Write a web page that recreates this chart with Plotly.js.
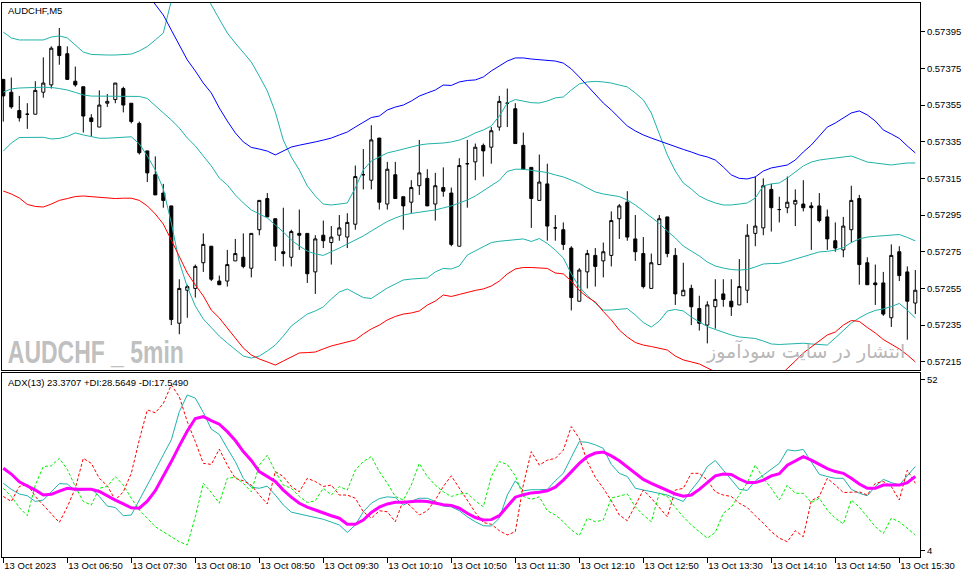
<!DOCTYPE html>
<html><head><meta charset="utf-8">
<script src="https://cdn.plot.ly/plotly-3.0.1.min.js"></script>
<style>html,body{margin:0;padding:0;background:#fff;}#chart{width:966px;height:578px;}</style>
</head><body><div id="chart"></div>
<script>
// ---- AUDCHF M5 candles (13 Oct 2023, 06:10 .. 15:40) ----
const open = [0.57369,0.57362,0.57352,0.57350,0.57350,0.57362,0.57366,0.57387,0.57383,0.57368,
0.57365,0.57348,0.57343,0.57356,0.57358,0.57364,0.57356,0.57345,0.57330,0.57317,
0.57307,0.57300,0.57236,0.57254,0.57255,0.57269,0.57278,0.57259,0.57259,0.57270,
0.57272,0.57266,0.57287,0.57304,0.57293,0.57275,0.57272,0.57285,0.57285,0.57264,
0.57284,0.57280,0.57284,0.57283,0.57290,0.57317,0.57314,0.57337,0.57301,0.57317,
0.57305,0.57302,0.57311,0.57315,0.57301,0.57310,0.57307,0.57278,0.57323,0.57324,
0.57333,0.57332,0.57343,0.57356,0.57353,0.57333,0.57321,0.57303,0.57312,0.57288,
0.57287,0.57277,0.57248,0.57264,0.57273,0.57270,0.57273,0.57293,0.57302,0.57282,
0.57274,0.57255,0.57268,0.57294,0.57273,0.57251,0.57255,0.57244,0.57235,0.57245,
0.57252,0.57248,0.57246,0.57254,0.57285,0.57288,0.57309,0.57298,0.57299,0.57301,
0.57301,0.57300,0.57300,0.57294,0.57281,0.57276,0.57287,0.57304,0.57269,0.57258,
0.57258,0.57239,0.57275,0.57264,0.57247];
const high = [0.57369,0.57370,0.57360,0.57356,0.57368,0.57381,0.57387,0.57397,0.57387,0.57376,
0.57365,0.57350,0.57363,0.57361,0.57367,0.57365,0.57356,0.57346,0.57330,0.57327,
0.57312,0.57300,0.57260,0.57257,0.57268,0.57285,0.57278,0.57262,0.57276,0.57282,
0.57285,0.57285,0.57303,0.57307,0.57293,0.57299,0.57287,0.57298,0.57285,0.57284,
0.57292,0.57289,0.57295,0.57296,0.57322,0.57331,0.57344,0.57337,0.57324,0.57324,
0.57305,0.57314,0.57336,0.57320,0.57318,0.57321,0.57310,0.57326,0.57336,0.57334,
0.57334,0.57343,0.57360,0.57364,0.57356,0.57340,0.57321,0.57328,0.57323,0.57295,
0.57291,0.57278,0.57266,0.57276,0.57277,0.57280,0.57297,0.57301,0.57308,0.57295,
0.57283,0.57274,0.57295,0.57294,0.57277,0.57269,0.57257,0.57251,0.57248,0.57260,
0.57260,0.57260,0.57271,0.57290,0.57316,0.57315,0.57312,0.57305,0.57316,0.57309,
0.57314,0.57302,0.57307,0.57298,0.57291,0.57294,0.57311,0.57306,0.57272,0.57268,
0.57264,0.57279,0.57278,0.57267,0.57265];
const low = [0.57346,0.57353,0.57346,0.57342,0.57350,0.57359,0.57364,0.57377,0.57369,0.57365,
0.57340,0.57338,0.57343,0.57354,0.57356,0.57351,0.57345,0.57328,0.57313,0.57306,
0.57299,0.57235,0.57230,0.57239,0.57250,0.57264,0.57259,0.57257,0.57256,0.57270,
0.57266,0.57261,0.57284,0.57294,0.57270,0.57267,0.57267,0.57276,0.57258,0.57252,
0.57277,0.57268,0.57281,0.57277,0.57287,0.57309,0.57309,0.57298,0.57298,0.57304,
0.57287,0.57296,0.57306,0.57300,0.57292,0.57305,0.57278,0.57278,0.57299,0.57314,
0.57316,0.57323,0.57341,0.57343,0.57334,0.57320,0.57288,0.57303,0.57281,0.57281,
0.57276,0.57243,0.57248,0.57255,0.57256,0.57261,0.57267,0.57282,0.57281,0.57270,
0.57255,0.57255,0.57268,0.57272,0.57246,0.57251,0.57235,0.57232,0.57225,0.57233,
0.57245,0.57240,0.57246,0.57247,0.57278,0.57284,0.57286,0.57291,0.57296,0.57289,
0.57297,0.57276,0.57291,0.57276,0.57275,0.57272,0.57280,0.57257,0.57257,0.57246,
0.57240,0.57234,0.57259,0.57227,0.57241];
const close = [0.57360,0.57354,0.57348,0.57350,0.57363,0.57367,0.57386,0.57382,0.57369,0.57366,
0.57349,0.57346,0.57355,0.57357,0.57367,0.57355,0.57346,0.57329,0.57318,0.57306,
0.57303,0.57238,0.57255,0.57256,0.57267,0.57279,0.57260,0.57257,0.57268,0.57274,
0.57267,0.57285,0.57303,0.57294,0.57278,0.57274,0.57286,0.57284,0.57263,0.57282,
0.57281,0.57283,0.57288,0.57291,0.57316,0.57317,0.57336,0.57302,0.57320,0.57304,
0.57300,0.57310,0.57318,0.57300,0.57311,0.57308,0.57279,0.57322,0.57323,0.57332,
0.57330,0.57341,0.57357,0.57356,0.57334,0.57320,0.57304,0.57313,0.57289,0.57288,
0.57279,0.57250,0.57265,0.57274,0.57267,0.57275,0.57292,0.57300,0.57283,0.57275,
0.57256,0.57269,0.57293,0.57274,0.57252,0.57254,0.57245,0.57236,0.57246,0.57249,
0.57249,0.57245,0.57256,0.57284,0.57289,0.57311,0.57299,0.57298,0.57302,0.57303,
0.57299,0.57299,0.57292,0.57282,0.57277,0.57289,0.57303,0.57268,0.57257,0.57257,
0.57241,0.57273,0.57262,0.57248,0.57254];

// ---- Bollinger band (teal) ----
const bbUpper = [0.573948,0.573916,0.573905,0.573905,0.573905,0.573905,0.573921,0.573927,0.573916,0.573878,
0.573839,0.573826,0.573823,0.573823,0.573823,0.573826,0.573828,0.573845,0.573869,0.573905,
0.573943,0.574118,0.574259,0.574341,0.574314,0.574205,0.574096,0.574019,0.573943,0.573888,
0.573834,0.573785,0.573708,0.573627,0.573512,0.573359,0.573267,0.573196,0.573109,0.573054,
0.573010,0.573005,0.573010,0.573016,0.573098,0.573196,0.573245,0.573267,0.573289,0.573299,
0.573310,0.573321,0.573332,0.573338,0.573340,0.573343,0.573349,0.573359,0.573376,0.573398,
0.573414,0.573436,0.573490,0.573561,0.573580,0.573572,0.573563,0.573561,0.573572,0.573589,
0.573594,0.573632,0.573665,0.573676,0.573679,0.573676,0.573670,0.573659,0.573649,0.573616,
0.573578,0.573507,0.573387,0.573278,0.573190,0.573125,0.573092,0.573054,0.573032,0.573016,
0.573005,0.573005,0.573010,0.573016,0.573043,0.573109,0.573120,0.573125,0.573152,0.573185,
0.573218,0.573239,0.573250,0.573256,0.573261,0.573267,0.573272,0.573256,0.573239,0.573234,
0.573229,0.573223,0.573229,0.573234,0.573234];
const bbMiddle = [0.573621,0.573638,0.573643,0.573646,0.573646,0.573647,0.573646,0.573640,0.573632,0.573619,
0.573605,0.573599,0.573599,0.573599,0.573599,0.573599,0.573601,0.573597,0.573586,0.573545,
0.573507,0.573469,0.573425,0.573370,0.573327,0.573272,0.573218,0.573152,0.573114,0.573060,
0.573016,0.572978,0.572956,0.572934,0.572896,0.572858,0.572814,0.572781,0.572754,0.572738,
0.572730,0.572749,0.572770,0.572792,0.572814,0.572836,0.572863,0.572890,0.572915,0.572934,
0.572950,0.572959,0.572965,0.572970,0.572978,0.572989,0.573000,0.573016,0.573032,0.573054,
0.573081,0.573109,0.573139,0.573188,0.573200,0.573200,0.573193,0.573189,0.573182,0.573169,
0.573158,0.573141,0.573122,0.573098,0.573076,0.573065,0.573060,0.573051,0.573032,0.573005,
0.572972,0.572940,0.572904,0.572863,0.572825,0.572781,0.572754,0.572727,0.572694,0.572672,
0.572661,0.572653,0.572650,0.572653,0.572667,0.572683,0.572686,0.572686,0.572697,0.572710,
0.572724,0.572740,0.572749,0.572752,0.572759,0.572773,0.572800,0.572820,0.572830,0.572834,
0.572836,0.572841,0.572844,0.572828,0.572809];
const bbLower = [0.573299,0.573343,0.573373,0.573374,0.573374,0.573374,0.573365,0.573368,0.573379,0.573398,
0.573387,0.573376,0.573369,0.573369,0.573373,0.573376,0.573377,0.573338,0.573272,0.573196,
0.573092,0.572907,0.572694,0.572558,0.572454,0.572383,0.572334,0.572290,0.572252,0.572214,
0.572181,0.572170,0.572181,0.572209,0.572241,0.572290,0.572345,0.572378,0.572410,0.572427,
0.572449,0.572492,0.572530,0.572547,0.572525,0.572500,0.572495,0.572525,0.572552,0.572574,
0.572596,0.572601,0.572604,0.572607,0.572640,0.572659,0.572656,0.572672,0.572732,0.572754,
0.572776,0.572800,0.572807,0.572811,0.572818,0.572820,0.572806,0.572822,0.572795,0.572759,
0.572716,0.572629,0.572558,0.572511,0.572470,0.572432,0.572432,0.572438,0.572440,0.572405,
0.572364,0.572339,0.572372,0.572427,0.572435,0.572427,0.572394,0.572367,0.572342,0.572326,
0.572310,0.572296,0.572285,0.572282,0.572277,0.572263,0.572247,0.572244,0.572247,0.572250,
0.572251,0.572247,0.572244,0.572241,0.572280,0.572323,0.572361,0.572389,0.572413,0.572430,
0.572438,0.572451,0.572468,0.572432,0.572389];

// ---- wide band (blue upper / red lower) ----
const outerUpper = [0.574341,0.574352,0.574363,0.574368,0.574374,0.574374,0.574374,0.574368,0.574363,0.574352,
0.574341,0.574330,0.574314,0.574298,0.574276,0.574254,0.574232,0.574205,0.574156,0.574096,
0.574041,0.573959,0.573878,0.573796,0.573736,0.573670,0.573616,0.573534,0.573463,0.573398,
0.573349,0.573319,0.573310,0.573299,0.573278,0.573299,0.573321,0.573331,0.573338,0.573349,
0.573359,0.573370,0.573387,0.573403,0.573430,0.573458,0.573482,0.573490,0.573523,0.573539,
0.573550,0.573572,0.573599,0.573616,0.573632,0.573659,0.573657,0.573676,0.573684,0.573687,
0.573703,0.573736,0.573763,0.573790,0.573807,0.573807,0.573801,0.573798,0.573796,0.573790,
0.573779,0.573747,0.573703,0.573654,0.573605,0.573561,0.573523,0.573479,0.573436,0.573409,
0.573387,0.573370,0.573354,0.573338,0.573321,0.573308,0.573294,0.573278,0.573267,0.573250,
0.573212,0.573169,0.573150,0.573147,0.573158,0.573190,0.573207,0.573215,0.573223,0.573250,
0.573294,0.573332,0.573381,0.573430,0.573452,0.573479,0.573507,0.573518,0.573496,0.573463,
0.573414,0.573392,0.573368,0.573327,0.573289];
const outerLower = [0.573081,0.573065,0.573043,0.573008,0.572997,0.572994,0.573010,0.573030,0.573040,0.573051,
0.573054,0.573050,0.573046,0.573040,0.573040,0.573042,0.573042,0.573030,0.573000,0.572956,
0.572901,0.572814,0.572721,0.572634,0.572569,0.572509,0.572432,0.572389,0.572334,0.572280,
0.572225,0.572187,0.572165,0.572149,0.572132,0.572154,0.572176,0.572198,0.572200,0.572203,
0.572220,0.572236,0.572247,0.572258,0.572269,0.572301,0.572329,0.572350,0.572378,0.572397,
0.572410,0.572416,0.572427,0.572459,0.572481,0.572514,0.572506,0.572517,0.572530,0.572539,
0.572547,0.572563,0.572590,0.572629,0.572656,0.572664,0.572664,0.572661,0.572659,0.572634,
0.572629,0.572590,0.572539,0.572503,0.572476,0.572424,0.572378,0.572323,0.572285,0.572255,
0.572241,0.572233,0.572222,0.572214,0.572181,0.572160,0.572149,0.572138,0.572116,0.572094,
0.572072,0.572051,0.572034,0.572023,0.572018,0.572023,0.572040,0.572072,0.572111,0.572154,
0.572198,0.572231,0.572266,0.572296,0.572312,0.572350,0.572375,0.572370,0.572337,0.572307,
0.572271,0.572247,0.572220,0.572187,0.572149];

// ---- ADX(13) sub-window ----
const adxMain = [27.2,25.6,23.4,22.3,21.1,19.7,19.9,20.8,21.6,21.3,
21.2,21.3,20.7,19.4,18.3,17.2,16.1,16.0,18.0,20.9,
24.9,29.1,33.5,37.7,41.2,41.7,40.6,39.6,37.5,35.0,
31.9,29.4,26.3,24.9,23.5,21.1,19.1,17.4,16.3,15.5,
14.6,13.9,13.2,11.5,11.5,12.7,14.8,16.3,17.2,17.7,
17.7,17.9,18.0,17.9,17.4,17.0,16.8,16.0,14.6,13.4,
12.7,12.8,13.9,16.4,19.1,19.8,20.3,20.5,20.9,21.9,
23.9,26.2,28.6,30.5,31.5,31.8,30.7,29.3,27.5,25.8,
24.1,23.0,22.0,20.9,20.0,19.4,19.7,21.3,23.3,25.1,
25.6,25.5,24.2,23.2,23.2,23.9,25.1,25.7,28.1,29.4,
30.5,29.5,28.3,27.1,26.3,25.8,24.4,22.8,21.6,21.6,
22.5,22.5,22.5,23.2,24.9];
const adxFast = [23.0,21.3,20.0,19.5,17.9,18.3,20.6,22.9,22.8,20.9,
21.1,21.5,19.3,16.6,16.2,13.9,14.1,18.3,22.1,26.7,
31.0,35.2,43.1,47.8,46.9,42.9,38.2,36.7,32.8,29.1,
24.4,21.9,21.6,22.2,19.7,16.9,14.9,14.4,14.1,13.6,
12.9,12.1,11.3,9.2,11.3,15.0,17.4,18.7,19.2,19.0,
16.9,18.0,18.8,18.8,17.9,16.6,16.4,15.3,13.6,12.2,
11.1,11.0,13.2,19.7,23.7,20.9,21.2,21.2,21.3,23.7,
25.8,30.3,34.7,34.5,33.8,32.8,28.3,25.8,24.9,21.6,
21.1,20.8,20.2,19.7,18.8,17.9,21.1,23.9,27.7,29.4,
26.7,23.9,21.3,21.0,23.7,25.3,26.9,28.6,32.4,32.1,
32.5,29.1,25.5,24.9,24.4,24.4,21.3,20.2,19.5,22.1,
24.1,23.2,22.5,25.1,27.7];
const plusDI = [19.3,17.9,22.1,22.8,19.3,16.9,14.6,12.0,16.4,21.6,
30.0,28.6,24.4,22.3,18.3,20.6,25.8,35.2,43.6,42.8,
45.4,50.6,47.3,40.3,34.7,28.6,28.3,32.6,28.1,24.4,
23.7,22.5,19.7,17.2,26.3,24.9,22.1,20.6,24.4,23.5,
22.1,22.5,19.7,19.7,18.8,15.0,13.2,15.3,15.0,12.2,
18.3,16.4,14.1,15.3,18.3,22.1,25.1,21.6,18.3,14.8,
12.0,11.5,9.7,8.5,9.4,22.5,31.9,28.1,29.5,30.0,
32.3,38.9,35.6,29.1,24.7,21.6,18.1,14.1,12.5,16.9,
21.1,18.8,16.3,13.6,21.1,21.6,25.8,25.8,23.9,20.6,
19.7,19.3,17.4,16.2,13.9,11.8,9.4,7.6,6.6,9.7,
8.0,18.1,19.3,24.4,22.5,20.4,20.5,20.6,19.7,23.0,
23.5,22.1,18.3,26.7,23.0];
const minusDI = [21.6,19.3,16.2,13.9,22.5,27.7,27.9,30.0,26.9,22.1,
17.9,16.9,21.6,22.1,24.9,22.5,18.8,15.5,13.2,10.8,
9.4,8.0,6.6,5.7,13.6,23.0,20.4,17.4,24.4,24.7,
23.0,20.6,28.1,30.9,26.3,22.5,21.6,19.3,17.6,18.1,
21.6,19.7,22.1,21.1,26.7,29.1,30.5,26.3,23.0,19.3,
18.3,22.5,28.6,24.9,22.5,20.6,19.3,20.0,20.2,18.1,
16.4,24.9,29.1,28.3,25.1,19.3,18.5,19.2,15.3,14.1,
12.2,9.9,8.3,13.2,12.2,12.7,18.9,19.4,20.0,16.4,
14.1,12.2,20.2,19.3,16.2,13.6,11.3,9.4,7.6,9.2,
14.6,16.3,19.7,23.2,28.1,24.4,21.6,18.3,22.5,20.2,
20.2,17.6,18.8,15.5,13.2,11.6,18.3,16.3,13.6,10.8,
8.9,13.2,12.2,10.4,8.5];

// ---- axis labels ----
const timeTickBars = [0,8,16,24,32,40,48,56,64,72,80,88,96,104,112];
const timeTickLabels = ["13 Oct 2023","13 Oct 06:50","13 Oct 07:30","13 Oct 08:10","13 Oct 08:50",
"13 Oct 09:30","13 Oct 10:10","13 Oct 10:50","13 Oct 11:30","13 Oct 12:10","13 Oct 12:50",
"13 Oct 13:30","13 Oct 14:10","13 Oct 14:50","13 Oct 15:30"];
const priceTicks = [0.57215,0.57235,0.57255,0.57275,0.57295,0.57315,0.57335,0.57355,0.57375,0.57395];
const adxTicks = [4,52];

const bar = open.map((_, i) => i);
const TEAL = '#20b2aa';
const FONT = 'Liberation Sans, Arial, sans-serif';
const WATERMARK = 'AUDCHF _ 5min';

function line(y, color, opts) {
  return Object.assign({type:'scatter', mode:'lines', x:bar, y:y, hoverinfo:'skip',
    line:{color:color, width:1}}, opts || {});
}

const traces = [
  {type:'candlestick', x:bar, open:open, high:high, low:low, close:close,
   xaxis:'x', yaxis:'y', whiskerwidth:0, hoverinfo:'skip',
   increasing:{line:{color:'#000', width:1}, fillcolor:'#ffffff'},
   decreasing:{line:{color:'#000', width:1}, fillcolor:'#000000'}},
  line(bbUpper, TEAL), line(bbMiddle, TEAL), line(bbLower, TEAL),
  line(outerUpper, '#0000ff'), line(outerLower, '#ff0000'),
  line(adxFast, TEAL, {xaxis:'x2', yaxis:'y2'}),
  line(plusDI, '#ff0000', {xaxis:'x2', yaxis:'y2', line:{color:'#ff0000', width:1, dash:'3px,2px'}}),
  line(minusDI, '#00ee00', {xaxis:'x2', yaxis:'y2', line:{color:'#00ee00', width:1, dash:'3px,2px'}}),
  line(adxMain, '#ff00ff', {xaxis:'x2', yaxis:'y2', line:{color:'#ff00ff', width:3}})
];

const frame = {showline:true, mirror:true, linecolor:'#000', linewidth:1, showgrid:false, zeroline:false, fixedrange:true};
const xRange = [-0.1625, 114.5875];

const layout = {
  width:966, height:578,
  margin:{l:2, r:46, t:3, b:21, pad:0},
  paper_bgcolor:'#ffffff', plot_bgcolor:'#ffffff',
  showlegend:false, boxgap:0.45, hovermode:false,
  font:{family:FONT, size:9.5, color:'#000'},
  xaxis:Object.assign({domain:[0,1], anchor:'y', range:xRange, showticklabels:false, ticks:'',
    rangeslider:{visible:false}}, frame),
  yaxis:Object.assign({domain:[0.33755,1], anchor:'x', side:'right', range:[0.5721050,0.5741066],
    tickvals:priceTicks, ticktext:priceTicks.map(v => v.toFixed(5)), ticks:'outside', ticklen:4,
    tickcolor:'#000', tickfont:{family:FONT, size:9.5, color:'#000'}}, frame),
  xaxis2:Object.assign({domain:[0,1], anchor:'y2', range:xRange, tickvals:timeTickBars,
    ticktext:timeTickLabels, ticks:'outside', ticklen:5, tickcolor:'#000',
    ticklabelposition:'outside right', tickfont:{family:FONT, size:9.5, color:'#000'},
    rangeslider:{visible:false}}, frame),
  yaxis2:Object.assign({domain:[0,0.33213], anchor:'x2', side:'right', range:[2.31,53.96],
    tickvals:adxTicks, ticktext:adxTicks.map(String), ticks:'outside', ticklen:4, tickcolor:'#000',
    tickfont:{family:FONT, size:9.5, color:'#000'}}, frame),
  annotations:[
    {xref:'paper', yref:'paper', x:0.0045, y:0.9865, xanchor:'left', yanchor:'middle', showarrow:false,
     text:'AUDCHF,M5', font:{family:FONT, size:9.5, color:'#000'}},
    {xref:'paper', yref:'paper', x:0.0045, y:0.3150, xanchor:'left', yanchor:'middle', showarrow:false,
     text:'ADX(13) 23.3707 +DI:28.5649 -DI:17.5490', font:{family:FONT, size:9.5, color:'#000'}},
    {xref:'paper', yref:'paper', x:0.1024, y:0.3691, xanchor:'center', yanchor:'middle', showarrow:false,
     text:WATERMARK, font:{family:FONT, size:31, weight:'bold', color:'#c0c0c0'}},
    {xref:'paper', yref:'paper', x:0.8753, y:0.3720, xanchor:'center', yanchor:'middle', showarrow:false,
     text:'انتشار در سایت سودآموز', font:{family:'DejaVu Sans, Noto Sans, sans-serif', size:19, color:'#b8b8b8'}}
  ]
};

Plotly.newPlot('chart', traces, layout, {staticPlot:true, displayModeBar:false}).then(function(gd) {
  // condense the bold watermark horizontally, as in the MT4 chart
  gd.querySelectorAll('text.annotation-text').forEach(function(t) {
    if (t.textContent === WATERMARK) {
      t.setAttribute('textLength', '176');
      t.setAttribute('lengthAdjust', 'spacingAndGlyphs');
    }
  });
});
</script>
</body></html>
